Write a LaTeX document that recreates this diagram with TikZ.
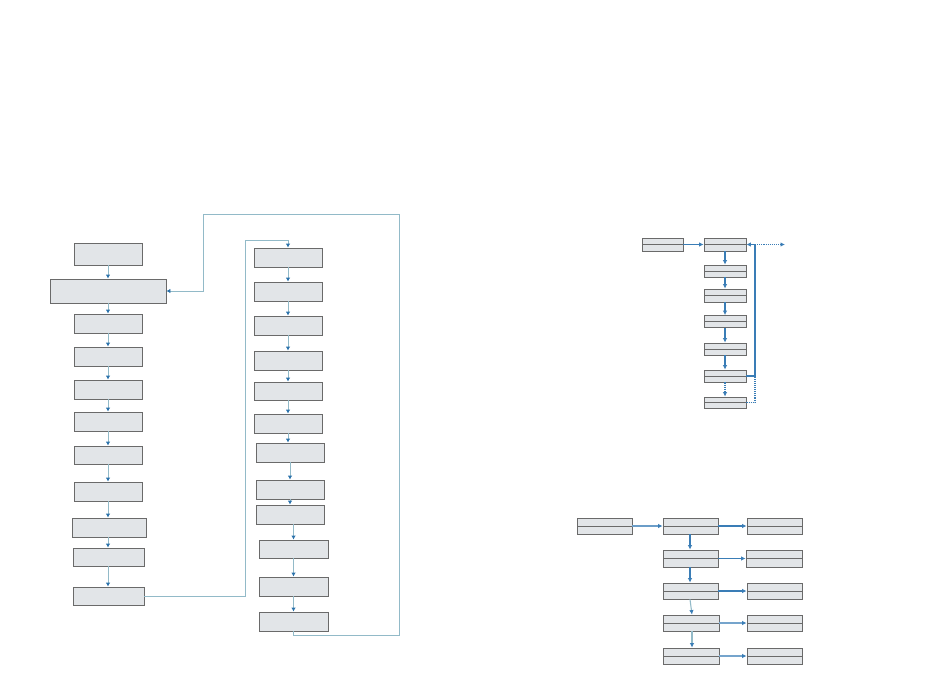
\documentclass[tikz,border=0pt]{standalone}
\usetikzlibrary{arrows.meta}
\definecolor{boxfill}{HTML}{E2E5E8}
\definecolor{boxline}{HTML}{6A6A6A}
\definecolor{connline}{HTML}{92BAC8}
\definecolor{tipblue}{HTML}{2C73AC}
\definecolor{rblue}{HTML}{3A7DB6}
\tikzset{
  box/.style={draw=boxline, fill=boxfill, line width=0.8pt, inner sep=0pt},
  sbox/.style={box, path picture={\draw[boxline, line width=0.7pt] (path picture bounding box.west) -- (path picture bounding box.east);}},
  conn/.style={draw=connline, line width=0.8pt},
  carr/.style={conn, -{Latex[length=4pt,width=4.5pt,color=tipblue]}},
  rline/.style={draw=rblue, line width=1.1pt},
  rarr/.style={rline, -{Latex[length=4.5pt,width=4.5pt,color=rblue]}},
}
\begin{document}
\begin{tikzpicture}[x=1pt,y=-1pt]
\useasboundingbox (0,0) rectangle (950,696);
% left column
\node[box,minimum width=68pt,minimum height=22pt] (L1) at (108,254) {};
\node[box,minimum width=116pt,minimum height=24pt] (L2) at (108,291) {};
\node[box,minimum width=68pt,minimum height=19pt] (L3) at (108,323.5) {};
\node[box,minimum width=68pt,minimum height=19pt] (L4) at (108,356.5) {};
\node[box,minimum width=68pt,minimum height=19pt] (L5) at (108,389.5) {};
\node[box,minimum width=68pt,minimum height=19pt] (L6) at (108,421.5) {};
\node[box,minimum width=68pt,minimum height=18pt] (L7) at (108,455) {};
\node[box,minimum width=68pt,minimum height=19pt] (L8) at (108,491.5) {};
\node[box,minimum width=74pt,minimum height=19pt] (L9) at (109,527.5) {};
\node[box,minimum width=71pt,minimum height=18pt] (L10) at (108.5,557) {};
\node[box,minimum width=71pt,minimum height=18pt] (L11) at (108.5,596) {};
\foreach \a/\b in {L1/L2,L2/L3,L3/L4,L4/L5,L5/L6,L6/L7,L7/L8,L8/L9,L9/L10,L10/L11}
  \draw[carr] (\a.south -| L1.south) -- (\b.north -| L1.north);
% second column
\node[box,minimum width=68pt,minimum height=19pt] (A) at (288,257.5) {};
\node[box,minimum width=68pt,minimum height=19pt] (B) at (288,291.5) {};
\node[box,minimum width=68pt,minimum height=19pt] (C) at (288,325.5) {};
\node[box,minimum width=68pt,minimum height=19pt] (D) at (288,360.5) {};
\node[box,minimum width=68pt,minimum height=18pt] (E) at (288,391) {};
\node[box,minimum width=68pt,minimum height=19pt] (F) at (288,423.5) {};
\node[box,minimum width=68pt,minimum height=19pt] (G) at (290,452.5) {};
\node[box,minimum width=68pt,minimum height=19pt] (H) at (290,489.5) {};
\node[box,minimum width=68pt,minimum height=19pt] (I) at (290,514.5) {};
\node[box,minimum width=69pt,minimum height=18pt] (J) at (293.5,549) {};
\node[box,minimum width=69pt,minimum height=19pt] (K) at (293.5,586.5) {};
\node[box,minimum width=69pt,minimum height=19pt] (L) at (293.5,621.5) {};
\foreach \a/\b in {A/B,B/C,C/D,D/E,E/F}
  \draw[carr] (\a.south) -- (\b.north);
\draw[carr] (F.south) -- (F.south |- G.north);
\draw[carr] (G.south) -- (H.north);
\draw[carr] (H.south) -- (I.north);
\draw[carr] (I.south -| J.north) -- (J.north);
\draw[carr] (J.south) -- (K.north);
\draw[carr] (K.south) -- (L.north);
% loops
\coordinate (r1) at (399,635);
\coordinate (r2) at (399,214);
\coordinate (r3) at (203,214);
\draw[carr] (L.south) |- (r1) -- (r2) -- (r3) |- (L2.east);
\coordinate (q1) at (245,240);
\draw[carr] (L11.east) -| (q1) -| (A.north);
% top right diagram
\node[sbox,minimum width=41pt,minimum height=13pt] (P) at (662.5,244.5) {};
\node[sbox,minimum width=42pt,minimum height=13pt] (Q1) at (725,244.5) {};
\node[sbox,minimum width=42pt,minimum height=12pt] (Q2) at (725,271) {};
\node[sbox,minimum width=42pt,minimum height=13pt] (Q3) at (725,295.5) {};
\node[sbox,minimum width=42pt,minimum height=12pt] (Q4) at (725,321.5) {};
\node[sbox,minimum width=42pt,minimum height=12pt] (Q5) at (725,349) {};
\node[sbox,minimum width=42pt,minimum height=12pt] (Q6) at (725,376) {};
\node[sbox,minimum width=42pt,minimum height=11pt] (Q7) at (725,402.5) {};
\draw[rarr, line width=1.5pt] (P.east) -- (Q1.west);
\foreach \a/\b in {Q1/Q2,Q2/Q3,Q3/Q4,Q4/Q5,Q5/Q6}
  \draw[rarr] (\a.south) -- (\b.north);
\draw[rarr,densely dotted] (Q6.south) -- (Q7.north);
\coordinate (v1) at (755,244.5);
\coordinate (v2) at (755,376);
\coordinate (v3) at (755,402.5);
\coordinate (out) at (785,244.5);
\draw[rline] (Q6.east) -- (v2) -- (v1);
\draw[rarr] (v1) -- (Q1.east);
\draw[rarr,densely dotted] (v1) -- (out);
\draw[rline,densely dotted] (Q7.east) -- (v3) -- (v2);
% bottom right diagram
\node[sbox,minimum width=55pt,minimum height=16pt] (R0) at (604.5,526) {};
\node[sbox,minimum width=55pt,minimum height=16pt] (S1) at (690.5,526) {};
\node[sbox,minimum width=55pt,minimum height=17pt] (S2) at (690.5,558.5) {};
\node[sbox,minimum width=55pt,minimum height=16pt] (S3) at (690.5,591) {};
\node[sbox,minimum width=56pt,minimum height=16pt] (S4) at (691,623) {};
\node[sbox,minimum width=56pt,minimum height=16pt] (S5) at (691,656) {};
\node[sbox,minimum width=55pt,minimum height=16pt] (T1) at (774.5,526) {};
\node[sbox,minimum width=56pt,minimum height=17pt] (T2) at (774,558.5) {};
\node[sbox,minimum width=55pt,minimum height=16pt] (T3) at (774.5,591) {};
\node[sbox,minimum width=55pt,minimum height=16pt] (T4) at (774.5,623) {};
\node[sbox,minimum width=55pt,minimum height=16pt] (T5) at (774.5,656) {};
\draw[rarr, line width=1.4pt, draw=rblue!75] (R0.east) -- (S1.west);
\draw[rarr] (S1.south -| 690,0) -- (S2.north -| 690,0);
\draw[rarr] (S2.south -| 690,0) -- (S3.north -| 690,0);
\draw[rarr, draw=connline] (S3.south -| 690,0) -- (S4.north -| 692,0);
\draw[rarr, draw=connline] (S4.south -| 692,0) -- (S5.north -| 692,0);
\foreach \i in {1,2,3}
  \draw[rarr] (S\i.east) -- (T\i.west);
\foreach \i in {4,5}
  \draw[rarr, line width=1.4pt, draw=rblue!70] (S\i.east) -- (T\i.west);
\end{tikzpicture}
\end{document}
